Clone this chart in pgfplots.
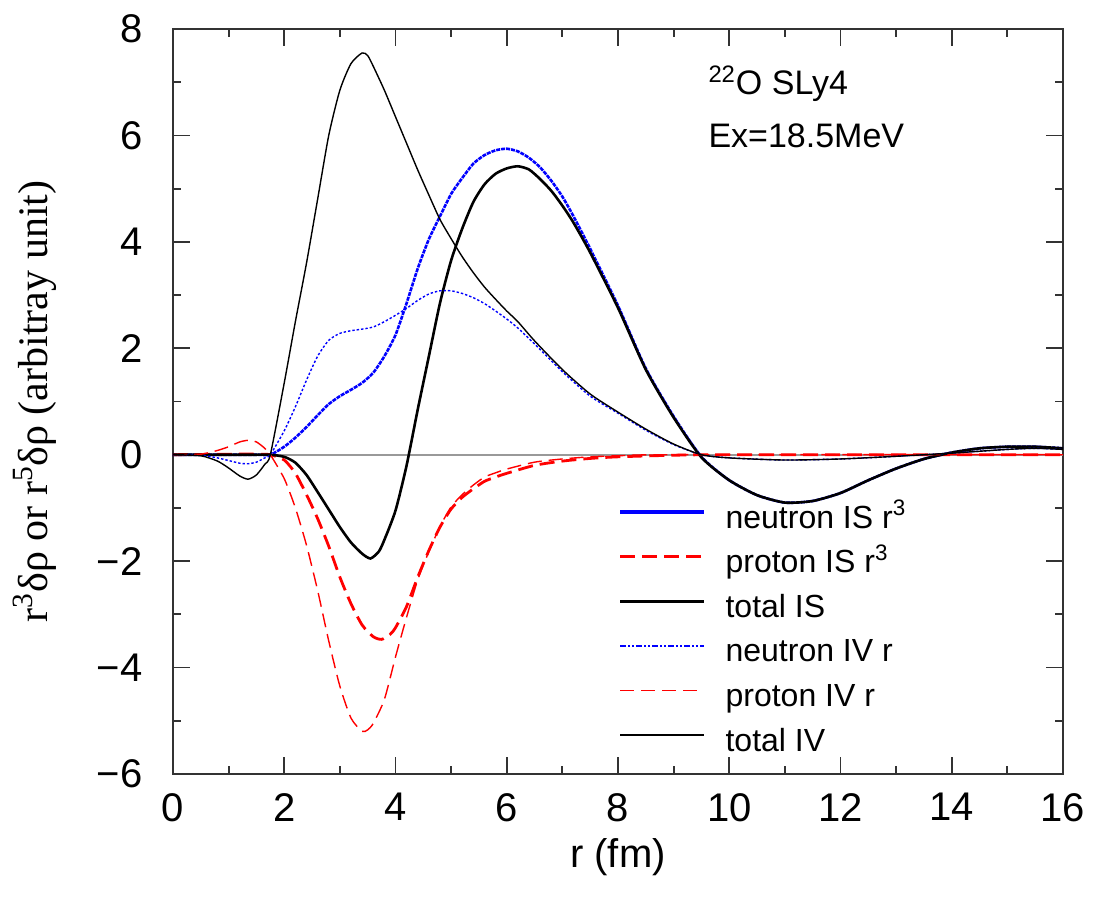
\documentclass[border=0pt]{standalone}
\usepackage{fontspec}
\setmainfont{Liberation Sans}
\newfontfamily\seriffont{Liberation Serif}
\usepackage{pgfplots}
\pgfplotsset{compat=1.18}

\begin{document}
\begin{tikzpicture}
\begin{axis}[
  name=ax,
  scale only axis,
  width=445pt, height=372.5pt,
  xmin=0, xmax=16, ymin=-6, ymax=8,
  xtick={0,2,...,16}, ytick={-6,-4,...,8},
  xticklabels={0,2,4,6,8,10,12,14,16},
  yticklabels={−6,−4,−2,0,2,4,6,8},
  minor x tick num=1, minor y tick num=1,
  tick align=inside,
  major tick length=8.5pt, minor tick length=4pt,
  every tick/.style={black!80, line width=0.9pt},
  axis line style={black!80, line width=1pt},
  tick label style={font=\fontsize{20}{24}\selectfont},
  xticklabel style={inner sep=0pt, anchor=north, yshift=-9.5pt},
  yticklabel style={inner sep=0pt, anchor=east, xshift=-15pt},
  xlabel={r (fm)},
  xlabel style={font=\fontsize{20}{24}\selectfont, at={([yshift=-41.5pt]axis description cs:0.5,0)}, anchor=center},
  ylabel={\seriffont r\textsuperscript{3}δρ or r\textsuperscript{5}δρ (arbitray unit)},
  ylabel style={font=\fontsize{21}{25}\selectfont, at={([xshift=-69pt]axis description cs:0,0.5)}, anchor=center, rotate=0},
  legend cell align=left,
  legend style={draw=none, fill=none, at={(axis cs:8.0,-0.92)}, anchor=north west,
    inner sep=0pt, row sep=6.3pt, font=\fontsize{16}{19}\selectfont,
    nodes={inner xsep=0pt, inner ysep=0pt, text height=12pt, text depth=4pt}},
  legend image code/.code={\draw[#1] (0pt,4pt) -- (42pt,4pt); \path (52pt,4pt);},
]
\addlegendimage{blue, line width=1.6pt, solid}
\addlegendentry{neutron IS r\textsuperscript{3}}
\addlegendimage{red, line width=1.5pt, dash pattern=on 7.5pt off 3.5pt}
\addlegendentry{proton IS r\textsuperscript{3}}
\addlegendimage{black, line width=1.5pt, solid}
\addlegendentry{total IS}
\addlegendimage{blue, line width=0.7pt, dash pattern=on 3pt off 1pt on 1pt off 1pt on 1pt off 1pt}
\addlegendentry{neutron IV r}
\addlegendimage{red, line width=0.8pt, dash pattern=on 7pt off 3.5pt}
\addlegendentry{proton IV r}
\addlegendimage{black, line width=0.7pt, solid}
\addlegendentry{total IV}

\addplot[gray!80, line width=1pt, forget plot] coordinates {(0,0) (16,0)};

% neutron IS r^3
\addplot[blue, line width=1.3pt, dash pattern=on 2pt off 0.5pt, smooth, tension=0.4, forget plot]
table {
0 0
0.5 0
1.0 0
1.5 0
1.75 0
2.0 0.15
2.2 0.32
2.4 0.52
2.6 0.74
2.8 0.95
3.0 1.1
3.2 1.22
3.4 1.35
3.6 1.54
3.8 1.85
4.0 2.25
4.2 2.85
4.4 3.5
4.6 4.05
4.8 4.48
5.0 4.9
5.2 5.2
5.4 5.47
5.6 5.63
5.8 5.72
6.0 5.75
6.2 5.7
6.4 5.58
6.6 5.4
6.8 5.15
7.0 4.85
7.2 4.48
7.5 3.87
8.0 2.8
8.5 1.62
9.0 0.72
9.5 -0.04
10.0 -0.48
10.5 -0.76
11.0 -0.9
11.5 -0.87
12.0 -0.72
12.5 -0.48
13.0 -0.26
13.5 -0.08
14.0 0.04
14.5 0.12
15.0 0.15
15.5 0.15
16.0 0.12
};

% proton IS r^3
\addplot[red, line width=1.4pt, dash pattern=on 7.5pt off 3.5pt, smooth, tension=0.4, forget plot]
table {
0 0
1.0 0.01
1.5 0.01
1.75 0
2.0 -0.1
2.2 -0.35
2.4 -0.75
2.6 -1.2
2.8 -1.72
3.0 -2.3
3.2 -2.8
3.4 -3.2
3.6 -3.42
3.75 -3.47
3.9 -3.38
4.0 -3.25
4.2 -2.85
4.4 -2.3
4.6 -1.8
4.8 -1.36
5.0 -1.02
5.2 -0.8
5.4 -0.64
5.6 -0.5
5.8 -0.42
6.0 -0.35
6.5 -0.2
7.0 -0.12
7.5 -0.07
8.0 -0.04
9.0 -0.01
10.0 0
16.0 0
};

% total IS
\addplot[black, line width=1.3pt, smooth, tension=0.4, forget plot]
table {
0 0
0.5 0
1.0 0
1.5 0
1.75 0
2.0 -0.04
2.2 -0.15
2.4 -0.38
2.6 -0.7
2.8 -1.03
3.0 -1.36
3.2 -1.65
3.4 -1.86
3.55 -1.95
3.7 -1.82
3.8 -1.6
4.0 -1.05
4.2 -0.2
4.4 0.85
4.6 1.85
4.8 2.85
5.0 3.65
5.2 4.25
5.4 4.75
5.6 5.08
5.8 5.28
6.0 5.38
6.2 5.42
6.4 5.36
6.6 5.18
6.8 4.96
7.0 4.68
7.2 4.36
7.5 3.8
8.0 2.76
8.5 1.6
9.0 0.7
9.5 -0.05
10.0 -0.48
10.5 -0.76
11.0 -0.9
11.5 -0.87
12.0 -0.72
12.5 -0.48
13.0 -0.26
13.5 -0.08
14.0 0.04
14.5 0.12
15.0 0.15
15.5 0.15
16.0 0.12
};

% neutron IV r
\addplot[blue, line width=0.7pt, dash pattern=on 1.2pt off 1pt, smooth, tension=0.4, forget plot]
table {
0 0
0.5 -0.01
0.8 -0.06
1.0 -0.11
1.2 -0.16
1.35 -0.17
1.5 -0.14
1.65 -0.06
1.75 0
2.0 0.45
2.2 0.9
2.4 1.4
2.6 1.85
2.8 2.15
3.0 2.28
3.2 2.33
3.4 2.36
3.6 2.4
3.8 2.5
4.0 2.62
4.2 2.75
4.4 2.9
4.6 3.02
4.8 3.08
5.0 3.08
5.2 3.03
5.4 2.95
5.6 2.84
5.8 2.7
6.0 2.55
6.2 2.38
6.5 2.08
7.0 1.56
7.5 1.1
8.0 0.78
8.5 0.46
9.0 0.19
9.5 0.0
10.0 -0.06
11.0 -0.1
12.0 -0.08
13.0 -0.03
14.0 0.03
15.0 0.1
15.5 0.12
16.0 0.1
};

% proton IV r
\addplot[red, line width=0.7pt, dash pattern=on 7pt off 3.5pt, smooth, tension=0.4, forget plot]
table {
0 0
0.5 0.01
0.8 0.08
1.0 0.15
1.2 0.24
1.35 0.27
1.5 0.24
1.65 0.12
1.75 0
2.0 -0.45
2.2 -1.0
2.4 -1.7
2.6 -2.55
2.8 -3.5
3.0 -4.35
3.2 -4.95
3.4 -5.2
3.5 -5.17
3.6 -5.05
3.8 -4.6
4.0 -3.8
4.2 -3.05
4.4 -2.35
4.6 -1.82
4.8 -1.35
5.0 -0.98
5.2 -0.75
5.4 -0.57
5.6 -0.42
5.8 -0.34
6.0 -0.27
6.5 -0.14
7.0 -0.08
7.5 -0.04
8.0 -0.02
9.0 0
16.0 0
};

% total IV
\addplot[black, line width=0.7pt, smooth, tension=0.4, forget plot]
table {
0 0
0.5 -0.02
0.8 -0.12
1.0 -0.25
1.2 -0.4
1.35 -0.46
1.5 -0.38
1.65 -0.18
1.75 0
2.0 1.35
2.2 2.5
2.4 3.6
2.6 4.8
2.8 6.0
3.0 6.85
3.2 7.35
3.4 7.55
3.5 7.5
3.6 7.3
3.8 6.85
4.0 6.35
4.2 5.85
4.4 5.35
4.6 4.88
4.8 4.42
5.0 4.06
5.2 3.72
5.4 3.42
5.6 3.15
5.8 2.92
6.0 2.7
6.2 2.5
6.5 2.14
7.0 1.6
7.5 1.14
8.0 0.8
8.5 0.48
9.0 0.2
9.5 0.0
10.0 -0.06
11.0 -0.1
12.0 -0.08
13.0 -0.03
14.0 0.03
15.0 0.1
15.5 0.12
16.0 0.1
};

\node[anchor=west, font=\fontsize{17}{20}\selectfont, inner sep=0pt] at (axis cs:9.62,6.97) {\textsuperscript{22}O SLy4};
\node[anchor=west, font=\fontsize{17}{20}\selectfont, inner sep=0pt] at (axis cs:9.62,5.99) {Ex=18.5MeV};
\end{axis}
\pgfresetboundingbox
\path[use as bounding box] ([shift={(-86.5pt,-61.5pt)}]ax.south west) rectangle ([shift={(15.5pt,14.5pt)}]ax.north east);
\end{tikzpicture}
\end{document}
